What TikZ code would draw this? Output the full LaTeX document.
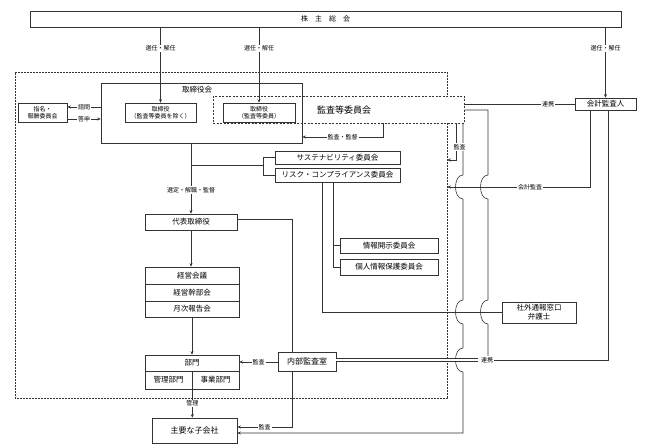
\documentclass[tikz,border=0pt]{standalone}
\usepackage{fontspec}
\setmainfont{Noto Sans CJK JP}
\usetikzlibrary{arrows.meta}
\begin{document}
\begin{tikzpicture}[x=1pt,y=-1pt,
  ln/.style={draw=black!80, line width=0.6pt},
  box/.style={draw=black!80, line width=0.6pt, fill=white, inner sep=0pt, align=center, font=\fontsize{7.5}{9}\selectfont},
  small/.style={font=\fontsize{6}{7}\selectfont},
  arr/.style={ln, -{Stealth[length=3.5pt,width=3pt]}},
  lab/.style={fill=white, inner sep=1pt, font=\fontsize{6}{6.5}\selectfont}]
\useasboundingbox (0,0) rectangle (645,447);
% group boundary
\node[draw=black!80, line width=0.5pt, dash pattern=on 0.6pt off 0.9pt, minimum width=432pt, minimum height=326pt, inner sep=0pt] (grp) at (231,235) {};
% top
\node[box, minimum width=591pt, minimum height=16pt, font=\fontsize{7}{8}\selectfont] (sh) at (325.5,19) {株\kern7pt主\kern7pt総\kern7pt会};
% audit committee (dashed)
\node[box, dash pattern=on 2pt off 1.5pt, minimum width=251pt, minimum height=27pt] (ac) at (338.5,109.5) {};
\node[font=\fontsize{9}{10}\selectfont, inner sep=0pt] (act) at (344,110) {監査等委員会};
% board
\node[box, fill=none, minimum width=201pt, minimum height=60pt] (bod) at (201.5,113) {};
\node[inner sep=0pt, font=\fontsize{7.5}{9}\selectfont] (bodt) at (197,90) {取締役会};
\node[box, small, minimum width=71pt, minimum height=19pt] (d1) at (160.5,112.5) {取締役\\（監査等委員を除く）};
\node[box, small, minimum width=72pt, minimum height=19pt] (d2) at (259,112.5) {取締役\\（監査等委員）};
\node[box, small, minimum width=49pt, minimum height=19pt] (nom) at (42.5,112.5) {指名・\\報酬委員会};
\node[box, minimum width=61pt, minimum height=12pt] (kaikei) at (605.5,104) {会計監査人};
% committees
\node[box, minimum width=125pt, minimum height=13pt] (sus) at (337.5,157.5) {サステナビリティ委員会};
\node[box, minimum width=125pt, minimum height=14pt] (risk) at (337.5,175) {リスク・コンプライアンス委員会};
\node[box, minimum width=98pt, minimum height=15pt] (jk) at (389,245.5) {情報開示委員会};
\node[box, minimum width=98pt, minimum height=16pt] (kj) at (389,267) {個人情報保護委員会};
% executive chain
\node[box, minimum width=92pt, minimum height=16pt] (ceo) at (191,222) {代表取締役};
\node[box, minimum width=94pt, minimum height=17pt] (m1) at (192,275.5) {経営会議};
\node[box, minimum width=94pt, minimum height=17pt] (m2) at (192,292.5) {経営幹部会};
\node[box, minimum width=94pt, minimum height=16pt] (m3) at (192,309) {月次報告会};
\node[box, minimum width=94pt, minimum height=16pt] (bu) at (192,363) {部門};
\node[box, minimum width=47pt, minimum height=18pt] (kanri) at (168.5,380) {管理部門};
\node[box, minimum width=47pt, minimum height=18pt] (jigyo) at (215.5,380) {事業部門};
\node[box, minimum width=58pt, minimum height=19pt, font=\fontsize{8}{9}\selectfont] (ia) at (307,361.5) {内部監査室};
\node[box, minimum width=85pt, minimum height=25pt, font=\fontsize{8}{9}\selectfont] (sub) at (194.5,430.5) {主要な子会社};
\node[box, minimum width=74pt, minimum height=21pt] (ext) at (539,312.5) {社外通報窓口\\弁護士};
% shareholders
\draw[arr] (sh.south -| d1.north) -- node[lab, pos=0.28]{選任・解任} (d1.north);
\draw[arr] (sh.south -| d2.north) -- node[lab, pos=0.28]{選任・解任} (d2.north);
\draw[arr] (sh.south -| kaikei.north) -- node[lab, pos=0.3]{選任・解任} (kaikei.north);
% nomination
\draw[arr] (bod.west |- 0,107) -- node[lab]{諮問} (nom.east |- 0,107);
\draw[arr] (nom.east |- 0,119) -- node[lab]{答申} (bod.west |- 0,119);
% audit committee
\draw[arr] (ac.south -| 383,0) -- (383,137) -- node[lab]{監査・監督} (bod.east |- 0,137);
\draw[ln] (ac.east |- kaikei.west) -- node[lab, pos=0.76]{連携} (kaikei.west);
\draw[arr] (ac.south -| 456,0) -- (456,160) -- (grp.east |- 0,160);
\draw[arr] (ac.south -| 463,0) -- (463,175) .. controls (453,175) and (453,199) .. (463,199)
  -- (463,300) .. controls (453,300) and (453,324) .. (463,324)
  -- (463,348) .. controls (453,348) and (453,372) .. (463,372)
  -- (463,433) -- (sub.east |- 0,433);
\node[lab] (lk) at (459.5,147) {監査};
\draw[ln] (ac.east |- 0,110) -- (488,110) -- (488,175) .. controls (478,175) and (478,199) .. (488,199)
  -- (488,300) .. controls (478,300) and (478,324) .. (488,324) -- (488,360);
% accounting auditor
\draw[arr] ([xshift=-15.5pt]kaikei.south) -- (590,187) -- node[lab, pos=0.42]{会計監査} (grp.east |- 0,187);
\draw[ln] ([xshift=2.5pt]kaikei.south) -- (608,360) -- (488,360);
\draw[ln, double=white, double distance=2.2pt, line width=0.5pt] (ia.east |- 0,360) -- (478,360);
\node[lab] (lrk) at (487,360) {連携};
% board to CEO
\draw[arr] (bod.south -| ceo.north) -- node[lab, pos=0.66]{選定・解職・監督} (ceo.north);
\draw[ln] (ceo.north |- 0,165) -- (263,165);
\draw[ln] (sus.west) -- (263,157.5) -- (263,175) -- (risk.west);
\draw[ln] (risk.south -| 322,0) -- (322,312.5) -- (ext.west);
\draw[ln] (risk.south -| 333,0) -- (333,267) -- (kj.west);
\draw[ln] (333,245.5) -- (jk.west);
% CEO chain
\draw[ln] (ceo.east |- 0,219) -- (292,219) -- (ia.north -| 292,0);
\draw[arr] (ia.south -| 292,0) -- (292,427) -- node[lab]{監査} (sub.east |- 0,427);
\draw[arr] (ceo.south) -- (ceo.south |- m1.north);
\draw[arr] (m3.south) -- (bu.north);
\draw[arr] (ia.west |- 0,362) -- node[lab]{監査} (bu.east |- 0,362);
\draw[arr] (kanri.south east) -- node[lab]{管理} (kanri.south east |- sub.north);
\end{tikzpicture}
\end{document}
